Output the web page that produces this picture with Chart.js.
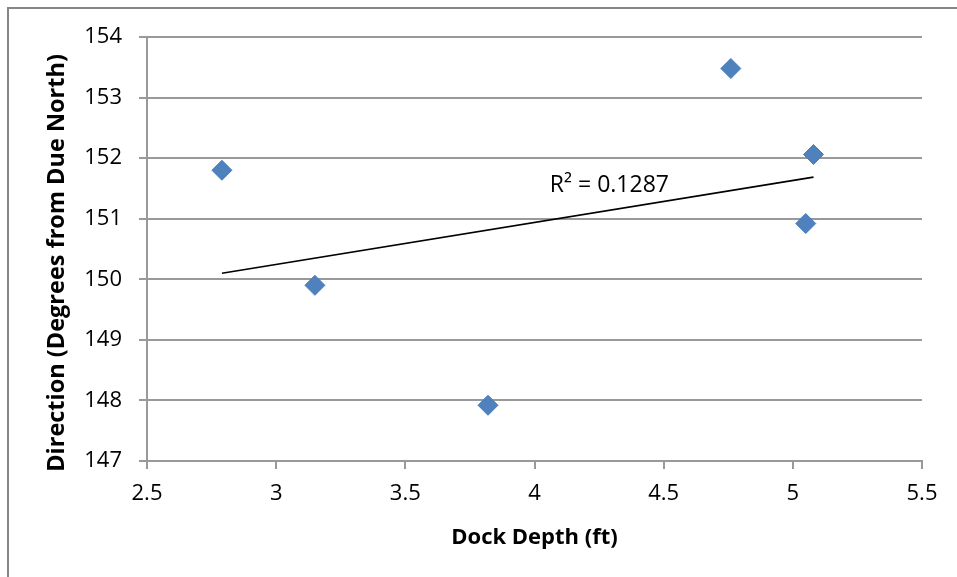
<!DOCTYPE html>
<html>
<head>
<meta charset="utf-8">
<script src="https://cdn.jsdelivr.net/npm/chart.js@4/dist/chart.umd.min.js"></script>
<style>
  html, body { margin: 0; padding: 0; background: #ffffff; }
  canvas { display: block; }
</style>
</head>
<body>
<canvas id="c" width="957" height="577"></canvas>
<script>
// ---- Data ----
const dockDepth = [2.79, 3.15, 3.82, 4.76, 5.05, 5.08];
const direction = [151.80, 149.90, 147.92, 153.48, 150.92, 152.06];
const xTicks = [2.5, 3, 3.5, 4, 4.5, 5, 5.5];
const yTicks = [147, 148, 149, 150, 151, 152, 153, 154];
const xTitle = 'Dock Depth (ft)';
const yTitle = 'Direction (Degrees from Due North)';
const r2Label = 'R\u00B2 = 0.1287';
const r2LabelAt = { x: 4.29, y: 151.55 };

// Linear least-squares trendline derived from the data
function linearFit(xs, ys) {
  const n = xs.length;
  const mx = xs.reduce((a, b) => a + b, 0) / n;
  const my = ys.reduce((a, b) => a + b, 0) / n;
  let sxy = 0, sxx = 0;
  for (let i = 0; i < n; i++) { sxy += (xs[i] - mx) * (ys[i] - my); sxx += (xs[i] - mx) ** 2; }
  const slope = sxy / sxx;
  return { slope, intercept: my - slope * mx };
}
const fit = linearFit(dockDepth, direction);
const xMin = Math.min(...dockDepth), xMax = Math.max(...dockDepth);
const trendPoints = [xMin, xMax].map(x => ({ x, y: fit.intercept + fit.slope * x }));
const scatterPoints = dockDepth.map((x, i) => ({ x, y: direction[i] }));

const FONT = "'Open Sans', 'Liberation Sans', sans-serif";
const GRID = '#999999';

const decorPlugin = {
  id: 'decor',
  beforeDraw(chart) {
    const ctx = chart.ctx;
    ctx.save();
    ctx.fillStyle = '#ffffff';
    ctx.fillRect(0, 0, chart.width, chart.height);
    ctx.strokeStyle = '#868686';
    ctx.lineWidth = 2;
    ctx.beginPath();
    ctx.moveTo(8, chart.height);
    ctx.lineTo(8, 8);
    ctx.lineTo(chart.width, 8);
    ctx.stroke();
    ctx.restore();
  },
  afterDraw(chart) {
    const ctx = chart.ctx;
    const xs = chart.scales.x, ys = chart.scales.y;
    ctx.save();
    // R² annotation
    ctx.fillStyle = '#000000';
    ctx.font = '23px ' + FONT;
    ctx.textAlign = 'center';
    ctx.textBaseline = 'middle';
    ctx.fillText(r2Label, xs.getPixelForValue(r2LabelAt.x), ys.getPixelForValue(r2LabelAt.y));
    // Y axis title
    ctx.font = 'bold 23.5px ' + FONT;
    ctx.translate(57, 263);
    ctx.rotate(-Math.PI / 2);
    ctx.fillText(yTitle, 0, 0);
    ctx.restore();
  }
};

new Chart(document.getElementById('c'), {
  type: 'scatter',
  data: {
    datasets: [
      {
        label: 'Direction',
        data: scatterPoints,
        pointStyle: 'rectRot',
        pointRadius: 10,
        pointHoverRadius: 10,
        backgroundColor: '#4F81BD',
        borderColor: '#4A7EBB',
        borderWidth: 1,
        order: 1
      },
      {
        label: 'Trend',
        type: 'line',
        data: trendPoints,
        borderColor: '#000000',
        borderWidth: 1.6,
        pointRadius: 0,
        fill: false,
        order: 2
      }
    ]
  },
  options: {
    responsive: false,
    animation: false,
    devicePixelRatio: 1,
    layout: { padding: { left: 0, top: 37, right: 35, bottom: 0 } },
    plugins: { legend: { display: false }, tooltip: { enabled: false } },
    scales: {
      x: {
        type: 'linear',
        min: xTicks[0],
        max: xTicks[xTicks.length - 1],
        afterBuildTicks(scale) { scale.ticks = xTicks.map(v => ({ value: v })); },
        afterFit(scale) { scale.height = 116; },
        grid: { drawOnChartArea: false, drawTicks: true, tickLength: 8, color: GRID, lineWidth: 2 },
        border: { display: true, color: GRID, width: 2 },
        ticks: { color: '#000000', font: { family: FONT, size: 22 }, padding: 12, maxRotation: 0,
                 callback: (v) => String(v) },
        title: { display: true, text: xTitle, color: '#000000', font: { family: FONT, size: 22, weight: 'bold' }, padding: { top: 0, bottom: 26 } }
      },
      y: {
        type: 'linear',
        min: yTicks[0],
        max: yTicks[yTicks.length - 1],
        afterBuildTicks(scale) { scale.ticks = yTicks.map(v => ({ value: v })); },
        afterFit(scale) { scale.width = 147; },
        grid: { drawOnChartArea: true, drawTicks: true, tickLength: 8, color: GRID, lineWidth: 2 },
        border: { display: true, color: GRID, width: 2 },
        ticks: { color: '#000000', font: { family: FONT, size: 22 }, padding: 17, callback: (v) => String(v) }
      }
    }
  },
  plugins: [decorPlugin]
});
</script>
</body>
</html>
